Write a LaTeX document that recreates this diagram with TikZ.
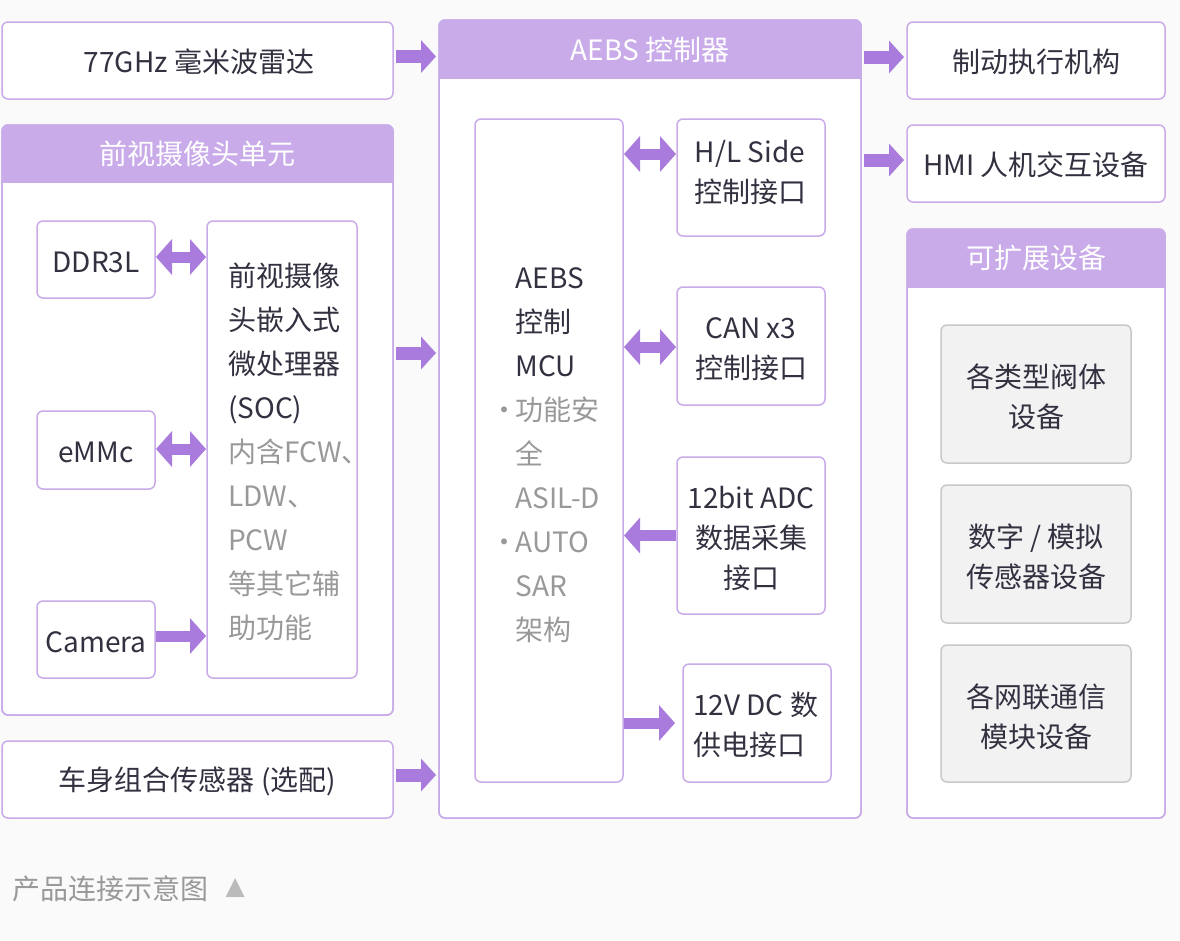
\documentclass[tikz,border=0pt]{standalone}
\usepackage{fontspec}
\setmainfont{Noto Sans CJK SC}
\newfontfamily\symfont{DejaVu Sans}
\usetikzlibrary{arrows.meta}
\definecolor{bg}{HTML}{FAFAFA}
\definecolor{hdr}{HTML}{C9ABEA}
\definecolor{bd}{HTML}{C9ABEA}
\definecolor{arr}{HTML}{A97BDC}
\definecolor{txt}{HTML}{333040}
\definecolor{gtxt}{HTML}{999999}
\definecolor{gboxc}{HTML}{F2F2F2}
\definecolor{gbd}{HTML}{C8C8C8}
\definecolor{tri}{HTML}{BBBBBB}
\tikzset{
  box/.style={draw=bd, line width=1.5pt, fill=white, rounded corners=6pt, inner sep=0pt, outer sep=0pt},
  graybox/.style={box, draw=gbd, fill=gboxc},
  btext/.style={text=txt, font=\fontsize{28}{40}\selectfont, align=center, inner sep=0pt},
  hdrtext/.style={text=white, font=\fontsize{28}{32}\selectfont, inner sep=0pt},
  linetext/.style={text=txt, font=\fontsize{28}{44}\selectfont, inner sep=0pt, align=left, anchor=west},
  blk/.style={draw=arr, line width=13pt, -{Triangle[length=15pt,width=32pt]}, shorten <=3pt, shorten >=3pt},
  dblk/.style={draw=arr, line width=11pt, {Triangle[length=16pt,width=35pt]}-{Triangle[length=16pt,width=35pt]}, shorten <=1pt, shorten >=1pt},
  sblk/.style={draw=arr, line width=11pt, -{Triangle[length=16pt,width=35pt]}, shorten <=1pt, shorten >=1pt},
}
\newcommand{\hdrfill}[2]{%
  \begin{scope}
    \clip[rounded corners=6pt] (#1.north west) rectangle (#1.south east);
    \fill[hdr] (#1.north west) rectangle ([yshift=-#2]#1.north east);
  \end{scope}
  \draw[bd, line width=1.5pt, rounded corners=6pt] (#1.north west) rectangle (#1.south east);
}
\begin{document}
\begin{tikzpicture}[x=1pt, y=-1pt]
  \fill[bg] (0,0) rectangle (1180,940);
  \useasboundingbox (0,0) rectangle (1180,940);

  % left column
  \node[box, minimum width=391pt, minimum height=77pt] (radar) at (197.5,60.5) {};
  \node[btext] (radarT) at (199,62) {77GHz 毫米波雷达};
  \node[box, minimum width=391pt, minimum height=590pt] (cam) at (197.5,420) {};
  \hdrfill{cam}{58pt}
  \node[hdrtext] (camT) at (197.5,154) {前视摄像头单元};
  \node[box, minimum width=118pt, minimum height=77pt] (ddr) at (96,259.5) {};
  \node[btext] (ddrT) at (96,262) {DDR3L};
  \node[box, minimum width=118pt, minimum height=78pt] (emmc) at (96,450) {};
  \node[btext] (emmcT) at (96,452.5) {eMMc};
  \node[box, minimum width=118pt, minimum height=77pt] (camera) at (96,639.5) {};
  \node[btext] (cameraT) at (96,642) {Camera};
  \node[box, minimum width=150pt, minimum height=457pt] (soc) at (282,449.5) {};
  \node[linetext] (soctext) at (228,452) {前视摄像\\头嵌入式\\微处理器\\(SOC)\\\textcolor{gtxt}{内含FCW、}\\\textcolor{gtxt}{LDW、}\\\textcolor{gtxt}{PCW}\\\textcolor{gtxt}{等其它辅}\\\textcolor{gtxt}{助功能}};
  \node[box, minimum width=391pt, minimum height=77pt] (body) at (197.5,779.5) {};
  \node[btext] (bodyT) at (197.5,781) {车身组合传感器 (选配)};

  % AEBS controller
  \node[box, minimum width=422pt, minimum height=798pt] (aebs) at (650,419) {};
  \hdrfill{aebs}{59pt}
  \node[hdrtext] (aebsT) at (650,50) {AEBS 控制器};
  \node[box, minimum width=148pt, minimum height=663pt] (mcu) at (549,450.5) {};
  \node[linetext] (mcutext) at (515.5,455) {AEBS\\控制\\MCU\\\textcolor{gtxt}{\llap{•\kern-3pt}功能安}\\\textcolor{gtxt}{全}\\\textcolor{gtxt}{ASIL-D}\\\textcolor{gtxt}{\llap{•\kern-3pt}AUTO}\\\textcolor{gtxt}{SAR}\\\textcolor{gtxt}{架构}};
  \node[box, minimum width=148pt, minimum height=117pt] (hl) at (751,177.5) {};
  \node[btext] (hlT) at (750,172) {H/L Side\\控制接口};
  \node[box, minimum width=148pt, minimum height=118pt] (can) at (751,346) {};
  \node[btext] (canT) at (751,349) {CAN x3\\控制接口};
  \node[box, minimum width=148pt, minimum height=157pt] (adc) at (751,535.5) {};
  \node[btext] (adcT) at (751,538.5) {12bit ADC\\数据采集\\接口};
  \node[box, minimum width=148pt, minimum height=118pt] (dc) at (757,723) {};
  \node[linetext] (dctext) at (693,725) {12V DC 数\\[-4pt]供电接口};

  % right column
  \node[box, minimum width=258pt, minimum height=77pt] (brake) at (1036,60.5) {};
  \node[btext] (brakeT) at (1036,62) {制动执行机构};
  \node[box, minimum width=258pt, minimum height=77pt] (hmi) at (1036,163.5) {};
  \node[btext] (hmiT) at (1036,165) {HMI 人机交互设备};
  \node[box, minimum width=258pt, minimum height=589pt] (ext) at (1036,523.5) {};
  \hdrfill{ext}{59pt}
  \node[hdrtext] (extT) at (1036,258) {可扩展设备};
  \node[graybox, minimum width=190pt, minimum height=138pt] (g1) at (1036,394) {};
  \node[btext] (g1T) at (1036,397) {各类型阀体\\设备};
  \node[graybox, minimum width=190pt, minimum height=138pt] (g2) at (1036,554) {};
  \node[btext] (g2T) at (1036,557) {数字 / 模拟\\传感器设备};
  \node[graybox, minimum width=190pt, minimum height=137pt] (g3) at (1036,713.5) {};
  \node[btext] (g3T) at (1036,717) {各网联通信\\模块设备};

  % arrows
  \draw[blk] ([yshift=4pt]radar.east) -- ([yshift=4pt]radar.east -| aebs.west);
  \draw[blk] ([yshift=67pt]cam.east) -- ([yshift=67pt]cam.east -| aebs.west);
  \draw[blk] ([yshift=4.5pt]body.east) -- ([yshift=4.5pt]body.east -| aebs.west);
  \draw[blk] ([yshift=3.5pt]brake.west -| aebs.east) -- ([yshift=3.5pt]brake.west);
  \draw[blk] ([yshift=3.5pt]hmi.west -| aebs.east) -- ([yshift=3.5pt]hmi.west);
  \draw[dblk] ([yshift=2.5pt]ddr.east) -- ([yshift=2.5pt]ddr.east -| soc.west);
  \draw[dblk] ([yshift=1pt]emmc.east) -- ([yshift=1pt]emmc.east -| soc.west);
  \draw[sblk] ([yshift=3.5pt]camera.east) -- ([yshift=3.5pt]camera.east -| soc.west);
  \draw[dblk] ([yshift=23.5pt]hl.west -| mcu.east) -- ([yshift=23.5pt]hl.west);
  \draw[dblk] ([yshift=-1pt]can.west -| mcu.east) -- ([yshift=-1pt]can.west);
  \draw[sblk] (adc.west) -- (adc.west -| mcu.east);
  \draw[sblk] (dc.west -| mcu.east) -- ([xshift=-7pt]dc.west);

  % caption
  \node[anchor=west, inner sep=0pt, text=gtxt, font=\fontsize{28}{30}\selectfont] (cap) at (12,889) {产品连接示意图};
  \node[anchor=west, inner sep=0pt, text=tri, font=\symfont\fontsize{25}{26}\selectfont] (capT) at ([xshift=17pt,yshift=1pt]cap.east) {▲};
\end{tikzpicture}
\end{document}
